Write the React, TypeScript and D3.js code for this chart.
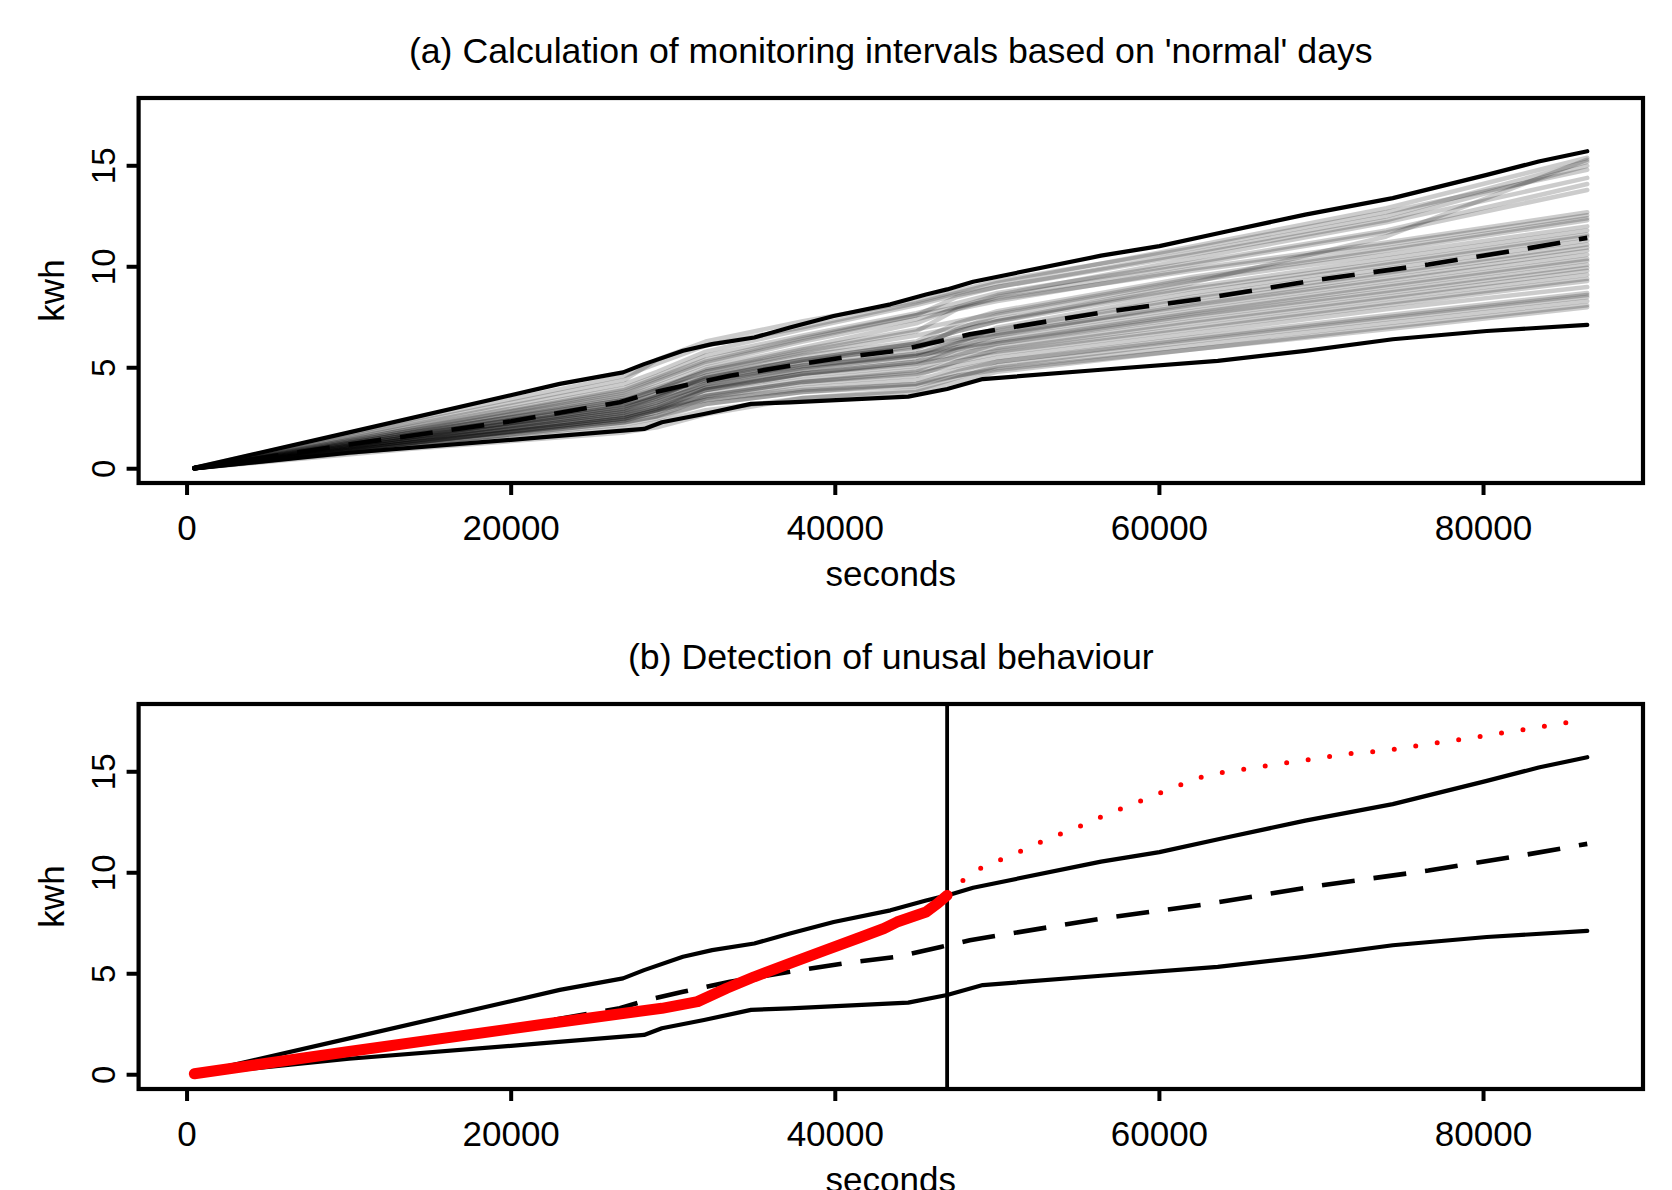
import React from 'react';
import * as d3 from 'd3';

// axis setup (R-style 4% padding around the data range)
const xTicks = [0, 20000, 40000, 60000, 80000];
const yTicks = [0, 5, 10, 15];
const xDomain = [-2990, 89840];
const yDomain = [-0.706, 18.356];

// 'normal' days, read at these seconds
const dayKnots = [450, 14000, 27000, 29000, 32000, 38000, 45000, 47500, 50000, 62000, 74000, 86400];
const normalDays: number[][] = [
  [0.05, 2.45, 4.6, 5.2, 6.1, 7.0, 8.2, 8.7, 9.2, 11.0, 12.9, 15.4],
  [0.04, 2.0, 3.8, 4.4, 5.3, 6.4, 7.6, 8.5, 9.0, 10.7, 12.5, 15.2],
  [0.04, 2.2, 4.2, 4.8, 5.8, 6.9, 8.1, 8.6, 9.0, 10.6, 12.3, 15.0],
  [0.04, 2.3, 4.4, 5.4, 6.3, 7.3, 8.3, 8.8, 9.3, 10.9, 12.7, 14.8],
  [0.03, 1.9, 3.6, 4.1, 5.0, 6.0, 7.2, 8.0, 8.6, 10.4, 12.2, 14.4],
  [0.04, 2.1, 4.0, 4.6, 5.6, 6.6, 7.7, 8.2, 8.7, 10.2, 11.8, 14.1],
  [0.03, 1.8, 3.4, 3.9, 4.8, 5.8, 6.8, 7.9, 8.5, 10.1, 11.7, 13.8],
  [0.03, 1.9, 3.7, 4.3, 5.2, 6.3, 7.4, 7.9, 8.3, 9.9, 11.2, 12.7],
  [0.03, 2.0, 3.9, 4.5, 5.4, 6.5, 7.6, 8.0, 8.4, 9.8, 11.1, 12.55],
  [0.03, 1.6, 3.1, 3.5, 4.6, 5.6, 6.3, 7.2, 7.8, 9.5, 10.9, 12.4],
  [0.03, 1.7, 3.3, 3.9, 4.9, 5.9, 6.9, 7.3, 7.7, 9.4, 10.8, 12.3],
  [0.03, 1.5, 2.9, 3.3, 4.2, 5.2, 5.9, 6.9, 7.6, 9.3, 10.6, 12.0],
  [0.02, 1.8, 3.5, 4.0, 4.8, 5.7, 6.6, 7.0, 7.4, 9.0, 10.4, 11.8],
  [0.03, 1.6, 3.0, 3.6, 4.5, 5.4, 6.2, 6.8, 7.3, 8.9, 10.2, 11.6],
  [0.02, 1.4, 2.7, 3.1, 4.0, 4.9, 5.5, 6.2, 7.0, 8.7, 10.1, 11.5],
  [0.02, 1.7, 3.2, 3.7, 4.4, 5.3, 6.1, 6.5, 6.9, 8.5, 9.9, 11.3],
  [0.02, 1.5, 2.8, 3.3, 4.2, 5.0, 5.7, 6.3, 6.8, 8.4, 9.7, 11.1],
  [0.02, 1.3, 2.5, 2.9, 3.9, 4.7, 5.3, 6.0, 6.6, 8.2, 9.6, 10.95],
  [0.02, 1.8, 3.4, 3.9, 4.6, 5.4, 6.0, 6.4, 6.7, 8.1, 9.4, 10.8],
  [0.02, 1.6, 3.0, 3.5, 4.3, 5.1, 5.7, 6.2, 6.6, 8.0, 9.3, 10.6],
  [0.02, 1.4, 2.6, 3.0, 3.9, 4.6, 5.1, 5.9, 6.4, 7.8, 9.1, 10.4],
  [0.02, 1.5, 2.9, 3.4, 4.1, 4.9, 5.6, 6.0, 6.3, 7.7, 9.0, 10.3],
  [0.02, 1.3, 2.4, 2.8, 3.7, 4.4, 4.9, 5.6, 6.2, 7.6, 8.8, 10.1],
  [0.02, 1.6, 3.1, 3.6, 4.4, 5.1, 5.6, 5.9, 6.2, 7.5, 8.7, 9.95],
  [0.02, 1.4, 2.7, 3.1, 3.9, 4.7, 5.3, 5.7, 6.0, 7.3, 8.5, 9.8],
  [0.02, 1.2, 2.3, 2.6, 3.5, 4.2, 4.6, 5.3, 5.9, 7.2, 8.4, 9.6],
  [0.02, 1.5, 2.8, 3.2, 4.0, 4.7, 5.2, 5.5, 5.8, 7.0, 8.2, 9.4],
  [0.02, 1.3, 2.5, 2.9, 3.6, 4.3, 4.8, 5.3, 5.7, 6.9, 8.1, 9.3],
  [0.02, 1.4, 2.6, 3.0, 3.6, 4.3, 4.7, 5.1, 5.5, 6.7, 7.9, 9.0],
  [0.02, 1.2, 2.2, 2.5, 3.2, 3.8, 4.2, 4.8, 5.3, 6.5, 7.6, 8.7],
  [0.02, 1.3, 2.4, 2.8, 3.4, 4.0, 4.4, 4.9, 5.3, 6.4, 7.5, 8.6],
  [0.02, 1.0, 1.8, 2.05, 2.7, 3.5, 3.9, 4.5, 5.1, 6.3, 7.4, 8.5],
  [0.02, 1.2, 2.3, 2.6, 3.2, 3.8, 4.1, 4.6, 5.0, 6.1, 7.2, 8.3],
  [0.02, 1.1, 2.0, 2.3, 2.9, 3.5, 3.8, 4.3, 4.8, 5.9, 7.0, 8.1],
  [0.02, 1.3, 2.5, 2.9, 3.4, 3.9, 4.2, 4.6, 4.9, 5.9, 6.9, 8.0],
  [0.03, 1.7, 3.2, 3.7, 4.5, 5.4, 6.2, 6.8, 7.3, 9.2, 11.5, 15.3],
];

// monitoring interval [seconds, kwh]
const upperBound: [number, number][] = [
  [450, 0.05], [10000, 1.8], [23000, 4.2], [26900, 4.77], [28200, 5.18], [30600, 5.84],
  [32400, 6.17], [35000, 6.5], [37200, 6.99], [39900, 7.56], [43400, 8.14], [45600, 8.63],
  [46900, 8.88], [48500, 9.26], [56400, 10.55], [60000, 11.02], [64200, 11.76],
  [69000, 12.58], [74400, 13.4], [80200, 14.55], [83400, 15.21], [86400, 15.72],
];
const lowerBound: [number, number][] = [
  [450, 0.02], [10000, 0.79], [21800, 1.55], [28200, 1.97], [29300, 2.3], [31900, 2.71],
  [34800, 3.21], [37200, 3.29], [44500, 3.57], [46900, 3.95], [49100, 4.44], [56400, 4.9],
  [63600, 5.34], [69000, 5.84], [74400, 6.41], [80200, 6.82], [86400, 7.12],
];
const medianLine: [number, number][] = [
  [450, 0.03], [10000, 1.2], [20000, 2.35], [26700, 3.29], [28400, 3.7], [30600, 4.11],
  [33500, 4.6], [37200, 5.1], [40500, 5.51], [43800, 5.84], [46500, 6.33], [48300, 6.66],
  [56400, 7.73], [63100, 8.47], [69900, 9.37], [76600, 10.11], [82300, 10.85], [86400, 11.43],
];

// the day being checked
const alarmTime = 46900;
const observed: [number, number][] = [
  [450, 0.05], [10000, 1.15], [22000, 2.5], [26200, 2.96], [29300, 3.29], [31500, 3.62],
  [33300, 4.28], [35000, 4.85], [37200, 5.51], [39400, 6.17], [41600, 6.82], [43000, 7.24],
  [43800, 7.56], [45600, 8.06], [46300, 8.47], [46900, 8.88],
];
const remaining: [number, number][] = [
  [46900, 8.88], [47500, 9.37], [48600, 10.08], [49700, 10.49], [51000, 10.9], [52200, 11.35],
  [53400, 11.76], [54600, 12.14], [55900, 12.58], [57000, 12.99], [58300, 13.37],
  [59500, 13.78], [60800, 14.19], [62000, 14.59], [63200, 14.88], [64500, 15.05],
  [65900, 15.21], [67200, 15.38], [68500, 15.51], [69800, 15.67], [71100, 15.84],
  [72400, 15.95], [73700, 16.03], [75000, 16.17], [76300, 16.33], [77600, 16.49],
  [79000, 16.64], [80300, 16.82], [81600, 16.99], [82900, 17.14], [84200, 17.32],
  [85500, 17.48], [86400, 17.58],
];

const FONT = "'Liberation Sans', Arial, Helvetica, sans-serif";
const left = 138.6;
const right = 1643;
const panelH = 385;

function Panel({ top, title, children }) {
  const x = d3.scaleLinear().domain(xDomain).range([left, right]);
  const y = d3.scaleLinear().domain(yDomain).range([top + panelH, top]);
  const bottom = top + panelH;
  const midY = top + panelH / 2;
  return (
    <g fontFamily={FONT} fill="#000">
      <text x={(left + right) / 2} y={top - 35} fontSize={35.7} textAnchor="middle">{title}</text>
      {children(x, y)}
      <rect x={left} y={top} width={right - left} height={panelH} fill="none" stroke="#000" strokeWidth={4.2} />
      {xTicks.map(t => (
        <g key={t}>
          <line x1={x(t)} x2={x(t)} y1={bottom} y2={bottom + 12} stroke="#000" strokeWidth={4} />
          <text x={x(t)} y={bottom + 57} fontSize={35} textAnchor="middle">{t}</text>
        </g>
      ))}
      {yTicks.map(t => (
        <g key={t}>
          <line x1={left - 12} x2={left} y1={y(t)} y2={y(t)} stroke="#000" strokeWidth={4} />
          <text transform={`translate(115,${y(t)}) rotate(-90)`} fontSize={33} textAnchor="middle">{t}</text>
        </g>
      ))}
      <text x={(left + right) / 2} y={bottom + 103} fontSize={35} textAnchor="middle">seconds</text>
      <text transform={`translate(64,${midY}) rotate(-90)`} fontSize={35} textAnchor="middle">kwh</text>
    </g>
  );
}

export default function App() {
  const bands = (x, y) => {
    const line = d3.line<[number, number]>().x(d => x(d[0])).y(d => y(d[1]));
    return (
      <g fill="none" strokeLinecap="round" strokeLinejoin="round">
        <path d={line(upperBound)} stroke="#000" strokeWidth={4.2} />
        <path d={line(lowerBound)} stroke="#000" strokeWidth={4.2} />
        <path d={line(medianLine)} stroke="#000" strokeWidth={4.6} strokeDasharray="33 19" strokeLinecap="butt" />
      </g>
    );
  };

  return (
    <svg width={1672} height={1190} style={{ position: 'absolute', left: 0, top: 0, background: '#fff' }}>
      <Panel top={98} title="(a) Calculation of monitoring intervals based on 'normal' days">
        {(x, y) => {
          const dayLine = d3.line<number>().x((_, i) => x(dayKnots[i])).y(d => y(d));
          return (
            <g>
              <g fill="none" stroke="rgba(0,0,0,0.2)" strokeWidth={4.5} strokeLinecap="round" strokeLinejoin="round">
                {normalDays.map((d, i) => <path key={i} d={dayLine(d)} />)}
              </g>
              {bands(x, y)}
            </g>
          );
        }}
      </Panel>
      <Panel top={704} title="(b) Detection of unusal behaviour">
        {(x, y) => {
          const line = d3.line<[number, number]>().x(d => x(d[0])).y(d => y(d[1]));
          return (
            <g>
              {bands(x, y)}
              <line x1={x(alarmTime)} x2={x(alarmTime)} y1={704} y2={704 + panelH} stroke="#000" strokeWidth={3.8} />
              <path d={line(observed)} fill="none" stroke="#ff0000" strokeWidth={11} strokeLinecap="round" strokeLinejoin="round" />
              <path d={line(remaining)} fill="none" stroke="#ff0000" strokeWidth={5} strokeLinecap="round" strokeDasharray="0 21.7" />
            </g>
          );
        }}
      </Panel>
    </svg>
  );
}
